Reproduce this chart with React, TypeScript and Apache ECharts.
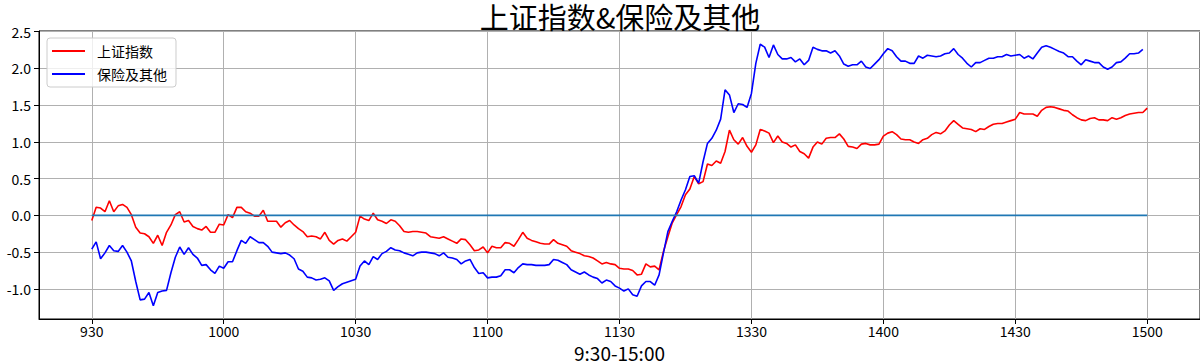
import React, { useEffect, useRef } from "react";
import * as echarts from "echarts";

const titleText = "上证指数&保险及其他";
const xAxisTitle = "9:30-15:00";
const seriesNames = ["上证指数", "保险及其他"];
const tickPositions = [0, 30, 60, 90, 120, 150, 180, 210, 240];
const tickLabels = ["930", "1000", "1030", "1100", "1130", "1330", "1400", "1430", "1500"];
const yTicks = [-1, -0.5, 0, 0.5, 1, 1.5, 2, 2.5];

// 上证指数, one value per minute (index 0 = 9:30, 240 = 15:00)
const shIndex = [
  -0.07, 0.11, 0.10, 0.05, 0.20, 0.05, 0.13, 0.15, 0.11, 0.01,
  -0.16, -0.24, -0.25, -0.29, -0.38, -0.27, -0.41, -0.23, -0.13, 0.01,
  0.05, -0.09, -0.07, -0.15, -0.18, -0.20, -0.15, -0.23, -0.23, -0.12,
  -0.13, 0.01, -0.03, 0.11, 0.11, 0.05, 0.03, -0.01, -0.01, 0.07,
  -0.08, -0.08, -0.08, -0.16, -0.10, -0.07, -0.13, -0.18, -0.22, -0.29,
  -0.28, -0.29, -0.32, -0.23, -0.34, -0.39, -0.34, -0.32, -0.35, -0.29,
  -0.23, -0.01, -0.05, -0.07, 0.03, -0.06, -0.08, -0.11, -0.06, -0.08,
  -0.14, -0.22, -0.23, -0.22, -0.22, -0.23, -0.24, -0.29, -0.30, -0.31,
  -0.29, -0.32, -0.35, -0.38, -0.32, -0.33, -0.40, -0.48, -0.47, -0.43,
  -0.51, -0.42, -0.44, -0.44, -0.37, -0.38, -0.42, -0.33, -0.23, -0.31,
  -0.34, -0.36, -0.38, -0.39, -0.39, -0.33, -0.38, -0.40, -0.42, -0.48,
  -0.50, -0.52, -0.55, -0.56, -0.58, -0.62, -0.66, -0.64, -0.66, -0.67,
  -0.72, -0.73, -0.73, -0.75, -0.81, -0.80, -0.66, -0.70, -0.69, -0.74,
  -0.49, -0.29, -0.10, 0.01, 0.12, 0.28, 0.36, 0.53, 0.43, 0.46,
  0.70, 0.68, 0.74, 0.71, 0.87, 1.16, 1.03, 0.97, 1.06, 0.94,
  0.86, 0.96, 1.17, 1.15, 1.12, 0.99, 1.08, 1.00, 0.98, 0.93,
  0.96, 0.87, 0.84, 0.78, 0.93, 1.00, 0.97, 1.05, 1.06, 1.06,
  1.11, 1.04, 0.94, 0.93, 0.91, 0.97, 0.98, 0.96, 0.96, 0.97,
  1.08, 1.12, 1.14, 1.10, 1.04, 1.03, 1.03, 1.00, 0.98, 1.03,
  1.05, 1.10, 1.13, 1.11, 1.15, 1.23, 1.29, 1.24, 1.19, 1.18,
  1.17, 1.14, 1.18, 1.17, 1.21, 1.24, 1.25, 1.25, 1.27, 1.29,
  1.31, 1.40, 1.38, 1.38, 1.38, 1.35, 1.43, 1.47, 1.48, 1.47,
  1.45, 1.43, 1.42, 1.37, 1.33, 1.30, 1.29, 1.32, 1.33, 1.30,
  1.30, 1.29, 1.33, 1.31, 1.33, 1.36, 1.38, 1.39, 1.40, 1.40, 1.46,
];

// 保险及其他, one value per minute
const insurance = [
  -0.46, -0.36, -0.59, -0.51, -0.41, -0.48, -0.49, -0.41, -0.50, -0.62,
  -0.90, -1.15, -1.14, -1.05, -1.23, -1.05, -1.03, -1.02, -0.78, -0.57,
  -0.43, -0.53, -0.44, -0.53, -0.58, -0.68, -0.67, -0.74, -0.79, -0.69,
  -0.72, -0.63, -0.63, -0.48, -0.34, -0.38, -0.29, -0.33, -0.37, -0.37,
  -0.42, -0.50, -0.51, -0.52, -0.51, -0.54, -0.59, -0.73, -0.76, -0.84,
  -0.85, -0.88, -0.87, -0.85, -0.89, -1.02, -0.97, -0.93, -0.91, -0.89,
  -0.87, -0.69, -0.62, -0.67, -0.56, -0.60, -0.52, -0.49, -0.44, -0.47,
  -0.48, -0.51, -0.53, -0.55, -0.51, -0.50, -0.50, -0.51, -0.52, -0.55,
  -0.51, -0.57, -0.58, -0.60, -0.66, -0.62, -0.60, -0.71, -0.79, -0.78,
  -0.85, -0.84, -0.84, -0.82, -0.74, -0.74, -0.78, -0.71, -0.66, -0.67,
  -0.67, -0.68, -0.68, -0.68, -0.67, -0.60, -0.61, -0.64, -0.67, -0.74,
  -0.77, -0.80, -0.77, -0.81, -0.84, -0.86, -0.92, -0.88, -0.90, -0.96,
  -0.99, -1.03, -1.00, -1.08, -1.10, -0.96, -0.90, -0.90, -0.95, -0.81,
  -0.51, -0.22, -0.08, 0.05, 0.21, 0.35, 0.53, 0.54, 0.44, 0.73,
  0.98, 1.05, 1.16, 1.31, 1.71, 1.64, 1.40, 1.52, 1.51, 1.47,
  1.66, 2.07, 2.33, 2.29, 2.15, 2.32, 2.19, 2.13, 2.13, 2.15,
  2.09, 2.13, 2.05, 2.11, 2.29, 2.26, 2.24, 2.24, 2.21, 2.24,
  2.17, 2.06, 2.03, 2.05, 2.05, 2.10, 2.02, 2.00, 2.06, 2.12,
  2.20, 2.27, 2.24, 2.16, 2.10, 2.10, 2.07, 2.07, 2.17, 2.14,
  2.18, 2.17, 2.16, 2.17, 2.20, 2.21, 2.27, 2.19, 2.14, 2.07,
  2.02, 2.08, 2.08, 2.11, 2.14, 2.14, 2.16, 2.16, 2.19, 2.17,
  2.18, 2.19, 2.14, 2.17, 2.13, 2.21, 2.29, 2.31, 2.29, 2.26,
  2.23, 2.21, 2.16, 2.16, 2.10, 2.05, 2.12, 2.10, 2.08, 2.08,
  2.02, 1.99, 2.02, 2.08, 2.09, 2.14, 2.20, 2.20, 2.21, 2.26,
];

const baseline = [
  [0, 0],
  [240, 0],
];

const FONT = "Noto Sans CJK SC";

export default function App() {
  const ref = useRef<HTMLDivElement>(null);

  useEffect(() => {
    document.body.style.margin = "0";
    if (!ref.current) return;
    const chart = echarts.init(ref.current, null, { renderer: "svg" });
    chart.setOption({
      animation: false,
      backgroundColor: "#ffffff",
      textStyle: { fontFamily: FONT },
      title: {
        text: titleText,
        left: 620,
        textAlign: "center",
        top: 1,
        padding: 0,
        textStyle: {
          fontFamily: FONT,
          fontSize: 29,
          fontWeight: "normal",
          color: "#000000",
          lineHeight: 30,
        },
      },
      grid: {
        left: 39,
        right: 0,
        top: 31,
        bottom: 42,
        outerBoundsMode: "none",
        containLabel: false,
        show: true,
        borderColor: "#000000",
        borderWidth: 1,
        backgroundColor: "transparent",
      },
      legend: {
        data: seriesNames,
        orient: "vertical",
        left: 47,
        top: 38,
        icon: "rect",
        itemWidth: 33,
        itemHeight: 2,
        itemGap: 5,
        padding: [4, 9, 4, 5],
        backgroundColor: "rgba(255,255,255,0.8)",
        borderColor: "#cccccc",
        borderWidth: 1,
        borderRadius: 3,
        textStyle: {
          fontFamily: FONT,
          fontSize: 14,
          color: "#000000",
          lineHeight: 18,
          padding: [0, 0, 0, 7],
        },
      },
      xAxis: {
        type: "value",
        min: -12,
        max: 252,
        name: xAxisTitle,
        nameLocation: "middle",
        nameGap: 22,
        nameTextStyle: {
          fontFamily: FONT,
          fontSize: 19,
          color: "#000000",
          lineHeight: 19,
        },
        axisLine: { show: true, onZero: false, lineStyle: { color: "#000000", width: 1 } },
        axisTick: {
          show: true,
          customValues: tickPositions,
          length: 5,
          lineStyle: { color: "#000000", width: 1 },
        },
        axisLabel: {
          customValues: tickPositions,
          formatter: (v: number) => {
            const k = tickPositions.indexOf(Math.round(v));
            return k >= 0 ? tickLabels[k] : "";
          },
          fontFamily: FONT,
          fontSize: 14,
          lineHeight: 14,
          color: "#000000",
          margin: 5,
        },
        splitLine: { show: true, lineStyle: { color: "#b0b0b0", width: 1 } },
      },
      yAxis: {
        type: "value",
        min: -1.41,
        max: 2.51,
        axisLine: { show: true, onZero: false, lineStyle: { color: "#000000", width: 1 } },
        axisTick: {
          show: true,
          customValues: yTicks,
          length: 5,
          lineStyle: { color: "#000000", width: 1 },
        },
        axisLabel: {
          customValues: yTicks,
          formatter: (v: number) => v.toFixed(1),
          fontFamily: FONT,
          fontSize: 14,
          color: "#000000",
          margin: 8,
        },
        splitLine: { show: true, lineStyle: { color: "#b0b0b0", width: 1 } },
      },
      series: [
        {
          name: seriesNames[0],
          type: "line",
          data: shIndex.map((v, i) => [i, v]),
          symbol: "none",
          color: "#ff0000",
          lineStyle: { color: "#ff0000", width: 1.6 },
          z: 3,
        },
        {
          name: seriesNames[1],
          type: "line",
          data: insurance.map((v, i) => [i, v]),
          symbol: "none",
          color: "#0000ff",
          lineStyle: { color: "#0000ff", width: 1.6 },
          z: 4,
        },
        {
          name: "baseline",
          type: "line",
          data: baseline,
          symbol: "none",
          color: "#1f77b4",
          lineStyle: { color: "#1f77b4", width: 1.6 },
          z: 5,
        },
      ],
    });
    return () => chart.dispose();
  }, []);

  return <div ref={ref} style={{ width: 1200, height: 361 }} />;
}
